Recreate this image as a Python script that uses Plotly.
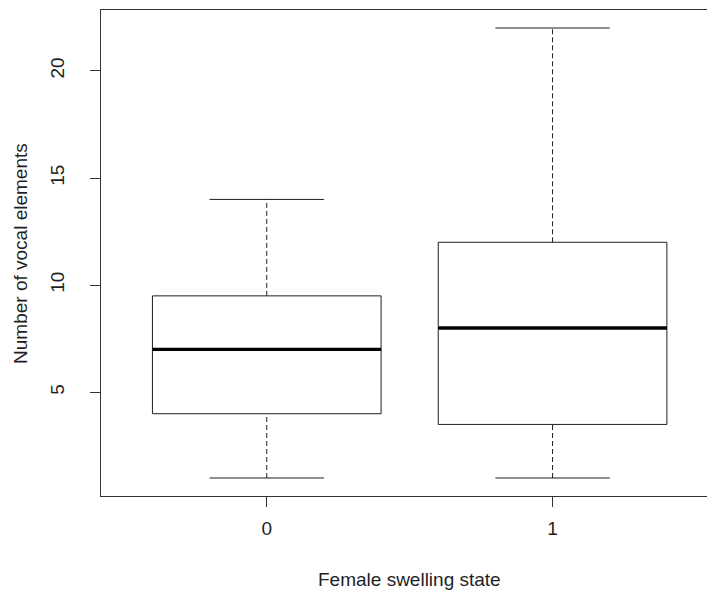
import plotly.graph_objects as go

# Data
categories = ["0", "1"]
lower_whisker = [1, 1]
q1 = [4, 3.5]
median = [7, 8]
q3 = [9.5, 12]
upper_whisker = [14, 22]
y_ticks = [5, 10, 15, 20]

x_title = "Female swelling state"
y_title = "Number of vocal elements"

BOX_HALF = 0.4
CAP_HALF = 0.2
INK = "#1f1f1f"
FONT = "Liberation Sans, Arial, sans-serif"

fig = go.Figure()

for i, cat in enumerate(categories):
    xc = i + 1
    # dashed whiskers
    fig.add_trace(go.Scatter(
        x=[xc, xc, None, xc, xc],
        y=[lower_whisker[i], q1[i], None, q3[i], upper_whisker[i]],
        mode="lines", line=dict(color=INK, width=1, dash="5px,3px"),
        hoverinfo="skip", showlegend=False))
    # caps
    fig.add_trace(go.Scatter(
        x=[xc - CAP_HALF, xc + CAP_HALF, None, xc - CAP_HALF, xc + CAP_HALF],
        y=[lower_whisker[i], lower_whisker[i], None, upper_whisker[i], upper_whisker[i]],
        mode="lines", line=dict(color=INK, width=1),
        hoverinfo="skip", showlegend=False))
    # box
    fig.add_trace(go.Scatter(
        x=[xc - BOX_HALF, xc + BOX_HALF, xc + BOX_HALF, xc - BOX_HALF, xc - BOX_HALF],
        y=[q1[i], q1[i], q3[i], q3[i], q1[i]],
        mode="lines", line=dict(color=INK, width=1),
        fill="toself", fillcolor="white",
        hoverinfo="skip", showlegend=False))
    # median
    fig.add_trace(go.Scatter(
        x=[xc - BOX_HALF, xc + BOX_HALF],
        y=[median[i], median[i]],
        mode="lines", line=dict(color="black", width=3.3),
        hoverinfo="skip", showlegend=False))

fig.update_layout(
    width=707, height=593,
    margin=dict(l=101, r=0, t=10, b=97),
    paper_bgcolor="white", plot_bgcolor="white",
    font=dict(family=FONT, size=19, color=INK),
    showlegend=False,
    xaxis=dict(
        range=[0.42, 0.42 + 606 / 285.8],
        tickvals=[i + 1 for i in range(len(categories))],
        ticktext=categories,
        showgrid=False, zeroline=False,
        showline=True, mirror=True, linecolor="#333", linewidth=1,
        ticks="outside", ticklen=10, tickcolor="#333", tickwidth=1,
        ticklabelstandoff=5,
        tickfont=dict(size=19, family=FONT, color=INK),
    ),
    yaxis=dict(
        range=[0.16, 22.84],
        tickvals=y_ticks,
        showgrid=False, zeroline=False,
        showline=True, mirror=False, linecolor="#333", linewidth=1,
        ticks="outside", ticklen=10, tickcolor="#333", tickwidth=1,
        tickangle=-90,
        ticklabelstandoff=18,
        tickfont=dict(size=19, family=FONT, color=INK),
    ),
    annotations=[
        dict(text=x_title, x=1.5, xref="x", y=-0.1728, yref="paper",
             xanchor="center", yanchor="middle", showarrow=False,
             font=dict(size=19, family=FONT, color=INK)),
        dict(text=y_title, x=-0.1337, xref="paper", y=0.5, yref="paper",
             xanchor="center", yanchor="middle", showarrow=False, textangle=-90,
             font=dict(size=19, family=FONT, color=INK)),
    ],
)

fig.write_html("out.html")
